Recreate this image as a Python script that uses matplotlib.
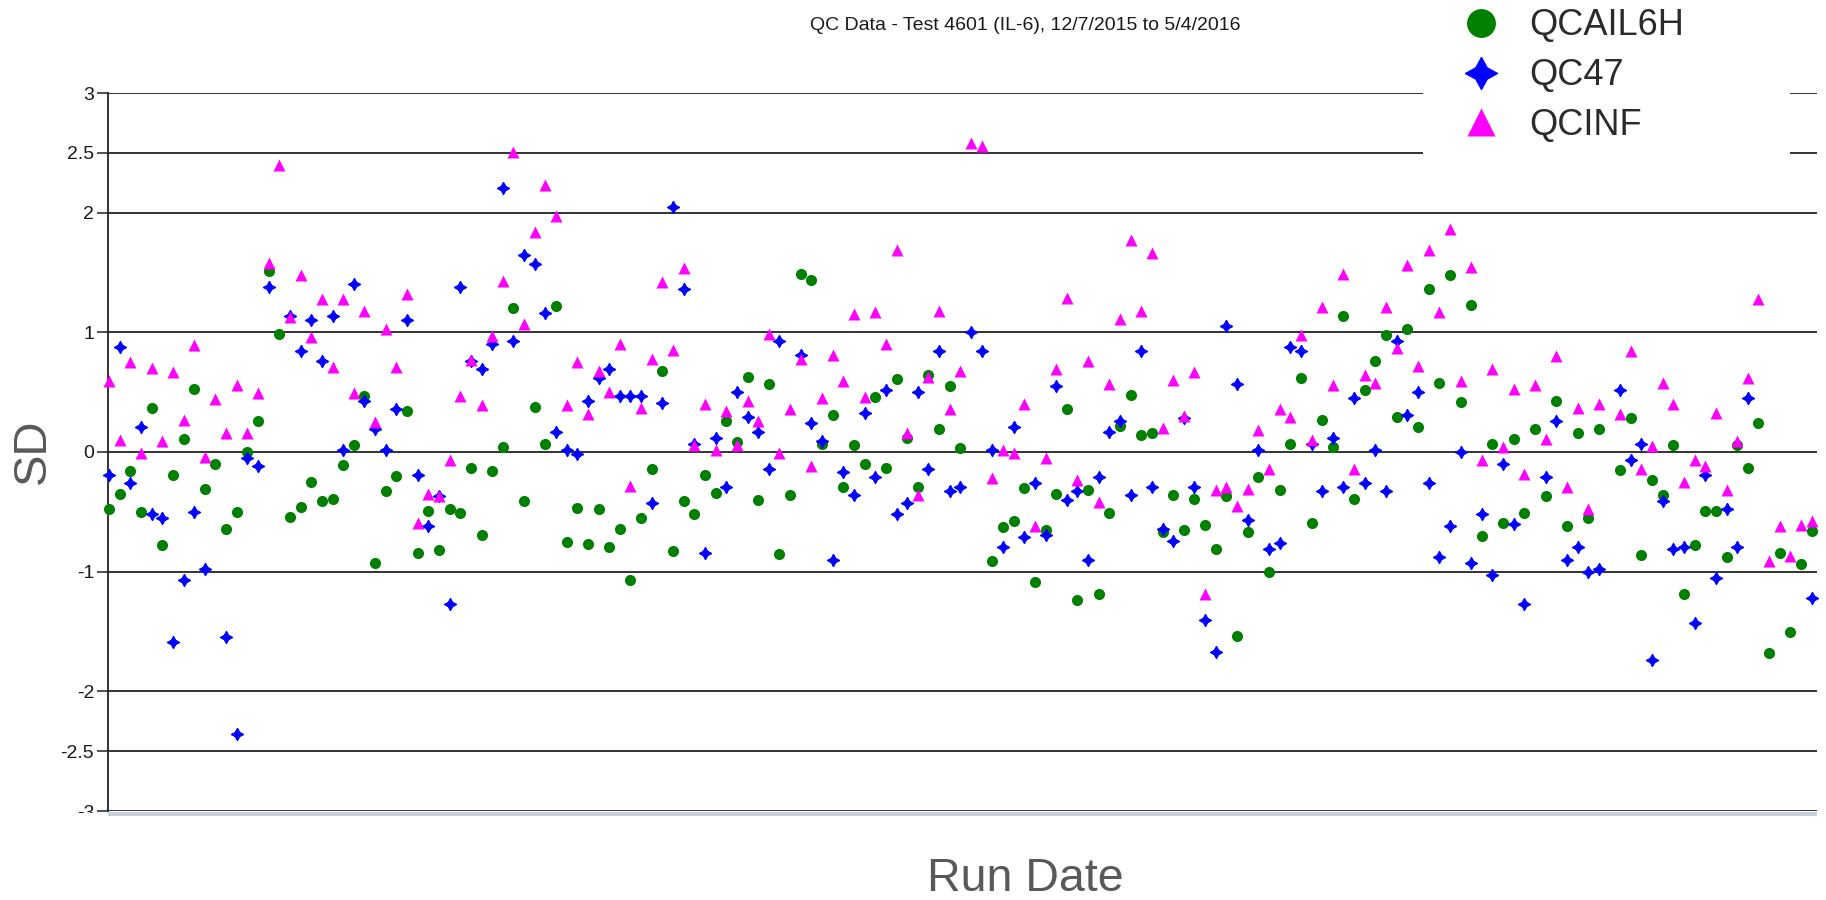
import numpy as np
import matplotlib
matplotlib.use("Agg")
import matplotlib.pyplot as plt
from matplotlib.patches import Rectangle

plt.rcParams['font.family'] = ['Liberation Sans', 'DejaVu Sans']

nan = np.nan

# SD values per run (index = run number)
qcail6h = [-0.48, -0.35, -0.16, -0.50, 0.37, -0.78, -0.19, 0.11, 0.53, -0.31,
           -0.10, -0.64, -0.50, 0.00, 0.26, 1.51, 0.99, -0.54, -0.46, -0.25,
           -0.41, -0.39, -0.11, 0.06, 0.47, -0.93, -0.33, -0.20, 0.34, -0.84,
           -0.49, -0.82, -0.48, -0.51, -0.13, -0.69, -0.16, 0.04, 1.20, -0.41,
           0.38, 0.07, 1.22, -0.75, -0.47, -0.77, -0.48, -0.79, -0.64, -1.07,
           -0.55, -0.14, 0.68, -0.83, -0.41, -0.52, -0.19, -0.34, 0.26, 0.08,
           0.63, -0.40, 0.57, -0.85, -0.36, 1.49, 1.44, 0.07, 0.31, -0.29,
           0.06, -0.10, 0.46, -0.13, 0.61, 0.12, -0.29, 0.64, 0.19, 0.55,
           0.03, nan, nan, -0.91, -0.63, -0.58, -0.30, -1.09, -0.65, -0.35,
           0.36, -1.24, -0.32, -1.19, -0.51, 0.22, 0.48, 0.14, 0.16, -0.67,
           -0.36, -0.65, -0.39, -0.61, -0.81, -0.37, -1.54, -0.67, -0.21, -1.00,
           -0.32, 0.07, 0.62, -0.59, 0.27, 0.04, 1.14, -0.39, 0.52, 0.76,
           0.98, 0.29, 1.03, 0.21, 1.36, 0.58, 1.48, 0.42, 1.23, -0.70,
           0.07, -0.59, 0.11, -0.51, 0.19, -0.37, 0.43, -0.62, 0.16, -0.55,
           0.19, nan, -0.15, 0.28, -0.86, -0.23, -0.36, 0.06, -1.19, -0.78,
           -0.49, -0.49, -0.88, 0.06, -0.13, 0.24, -1.68, -0.84, -1.50, -0.94,
           -0.66]

qc47 = [-0.19, 0.88, -0.26, 0.21, -0.52, -0.55, -1.59, -1.07, -0.50, -0.98,
        nan, -1.55, -2.36, -0.05, -0.12, 1.38, nan, 1.14, 0.84, 1.10,
        0.76, 1.14, 0.02, 1.40, 0.43, 0.19, 0.02, 0.36, 1.10, -0.19,
        -0.62, -0.37, -1.27, 1.38, 0.76, 0.69, 0.90, 2.21, 0.93, 1.65,
        1.57, 1.16, 0.17, 0.02, -0.02, 0.43, 0.62, 0.69, 0.47, 0.47,
        0.47, -0.43, 0.41, 2.05, 1.36, 0.07, -0.84, 0.12, -0.29, 0.50,
        0.29, 0.17, -0.14, 0.93, nan, 0.81, 0.24, 0.09, -0.90, -0.17,
        -0.36, 0.33, -0.21, 0.52, -0.52, -0.43, 0.50, -0.14, 0.84, -0.33,
        -0.29, 1.00, 0.84, 0.02, -0.79, 0.21, -0.71, -0.26, -0.69, 0.55,
        -0.40, -0.33, -0.90, -0.21, 0.17, 0.26, -0.36, 0.84, -0.29, -0.64,
        -0.74, 0.28, -0.29, -1.40, -1.67, 1.05, 0.57, -0.57, 0.02, -0.81,
        -0.76, 0.88, 0.84, 0.07, -0.33, 0.12, -0.29, 0.45, -0.26, 0.02,
        -0.33, 0.93, 0.31, 0.50, -0.26, -0.88, -0.62, 0.00, -0.93, -0.52,
        -1.03, -0.10, -0.60, -1.27, nan, -0.21, 0.26, -0.90, -0.79, -1.00,
        -0.98, nan, 0.52, -0.07, 0.07, -1.74, -0.41, -0.81, -0.79, -1.43,
        -0.19, -1.05, -0.48, -0.79, 0.45, nan, nan, nan, nan, nan,
        -1.22]

qcinf = [0.59, 0.10, 0.75, -0.01, 0.70, 0.09, 0.67, 0.27, 0.89, -0.04,
         0.44, 0.16, 0.56, 0.16, 0.49, 1.58, 2.40, 1.13, 1.48, 0.96,
         1.28, 0.71, 1.28, 0.49, 1.18, 0.25, 1.03, 0.71, 1.32, -0.59,
         -0.35, -0.37, -0.07, 0.47, 0.77, 0.39, 0.97, 1.43, 2.51, 1.07,
         1.84, 2.23, 1.97, 0.39, 0.75, 0.32, 0.68, 0.50, 0.90, -0.28,
         0.37, 0.78, 1.42, 0.85, 1.54, 0.06, 0.40, 0.02, 0.34, 0.06,
         0.43, 0.26, 0.99, -0.01, 0.36, 0.78, -0.12, 0.45, 0.81, 0.59,
         1.15, 0.46, 1.17, 0.90, 1.69, 0.16, -0.36, 0.63, 1.18, 0.36,
         0.68, 2.58, 2.56, -0.22, 0.02, -0.01, 0.40, -0.62, -0.05, 0.69,
         1.29, -0.23, 0.76, -0.42, 0.57, 1.11, 1.77, 1.18, 1.66, 0.20,
         0.60, 0.30, 0.67, -1.19, -0.32, -0.29, -0.45, -0.31, 0.18, -0.14,
         0.36, 0.29, 0.98, 0.10, 1.21, 0.56, 1.49, -0.14, 0.64, 0.58,
         1.21, 0.87, 1.56, 0.72, 1.69, 1.17, 1.86, 0.59, 1.55, -0.07,
         0.69, 0.04, 0.53, -0.18, 0.56, 0.11, 0.80, -0.29, 0.37, -0.48,
         0.40, nan, 0.32, 0.84, -0.14, 0.05, 0.58, 0.40, -0.25, -0.07,
         -0.12, 0.33, -0.32, 0.09, 0.62, 1.28, -0.91, -0.62, -0.87, -0.61,
         -0.58]

ytick_vals = [3, 2.5, 2, 1, 0, -1, -2, -2.5, -3]
ytick_text = ['3', '2.5', '2', '1', '0', '-1', '-2', '-2.5', '-3']

runs = np.arange(len(qcail6h))
W, H = 1826, 900

fig = plt.figure(figsize=(W / 100, H / 100), dpi=100)
ax = fig.add_axes([108 / W, 1 - 811 / H, (1817 - 108) / W, (811 - 93) / H])

ax.set_xlim(-0.1, 160.5)
ax.set_ylim(-3, 3)
ax.set_yticks(ytick_vals)
ax.set_yticklabels(ytick_text)
ax.set_xticks([])
ax.tick_params(axis='y', length=8, width=1.2, color='#333333', pad=2,
               labelsize=14, labelcolor='#1a1a1a')
ax.yaxis.grid(True, color='#333333', linewidth=1.4)
ax.set_axisbelow(True)
for s in ['top', 'right', 'bottom']:
    ax.spines[s].set_visible(False)
ax.spines['left'].set_color('#222222')
ax.spines['left'].set_linewidth(1.3)

ax.plot(runs, qcail6h, 'o', color='#008000', ms=8, mec='none',
        clip_on=False, zorder=3, label='QCAIL6H')
ax.plot(runs, qc47, marker=(4, 1, 0), ls='none', color='#0000ff', ms=9,
        mec='#0000ff', mew=0.8, clip_on=False, zorder=4, label='QC47')
ax.plot(runs, qcinf, '^', color='#ff00ff', ms=8, mec='none',
        clip_on=False, zorder=5, label='QCINF')

# scroll bar strip under the plot
fig.patches.append(Rectangle((108 / W, 1 - 816 / H), (1817 - 108) / W, 4 / H,
                             transform=fig.transFigure, facecolor='#c5d2de',
                             edgecolor='none', zorder=2))
# the "-3" label is half hidden in the original
fig.patches.append(Rectangle((40 / W, 0), 66 / W, 1 - 813 / H,
                             transform=fig.transFigure, facecolor='white',
                             edgecolor='none', zorder=10))
# white legend panel over the top gridlines
ax.add_patch(Rectangle((1423 / W, 1 - 160 / H), (1790 - 1423) / W, 160 / H,
                       transform=fig.transFigure, facecolor='white',
                       edgecolor='none', zorder=6, clip_on=False))

leg = ax.legend(loc='upper left', bbox_to_anchor=(1458 / W, 1 - 3 / H),
                bbox_transform=fig.transFigure, frameon=False, fontsize=26,
                markerscale=2.6, handlelength=1.0, handletextpad=0.82,
                labelspacing=0.41, borderpad=0.15, borderaxespad=0)
leg.set_zorder(7)
for t in leg.get_texts():
    t.set_color('#2b2b2b')

fig.text(1025 / W, 1 - 26 / H, 'QC Data - Test 4601 (IL-6), 12/7/2015 to 5/4/2016',
         ha='center', va='center', fontsize=14, color='#1a1a1a')
fig.text(33 / W, 1 - 451 / H, 'SD', rotation=90, ha='center', va='center',
         fontsize=34, color='#595959')
fig.text(1025 / W, 1 - 879 / H, 'Run Date', ha='center', va='center',
         fontsize=33.5, color='#595959')

fig.savefig('out.png', dpi=100, facecolor='white')
